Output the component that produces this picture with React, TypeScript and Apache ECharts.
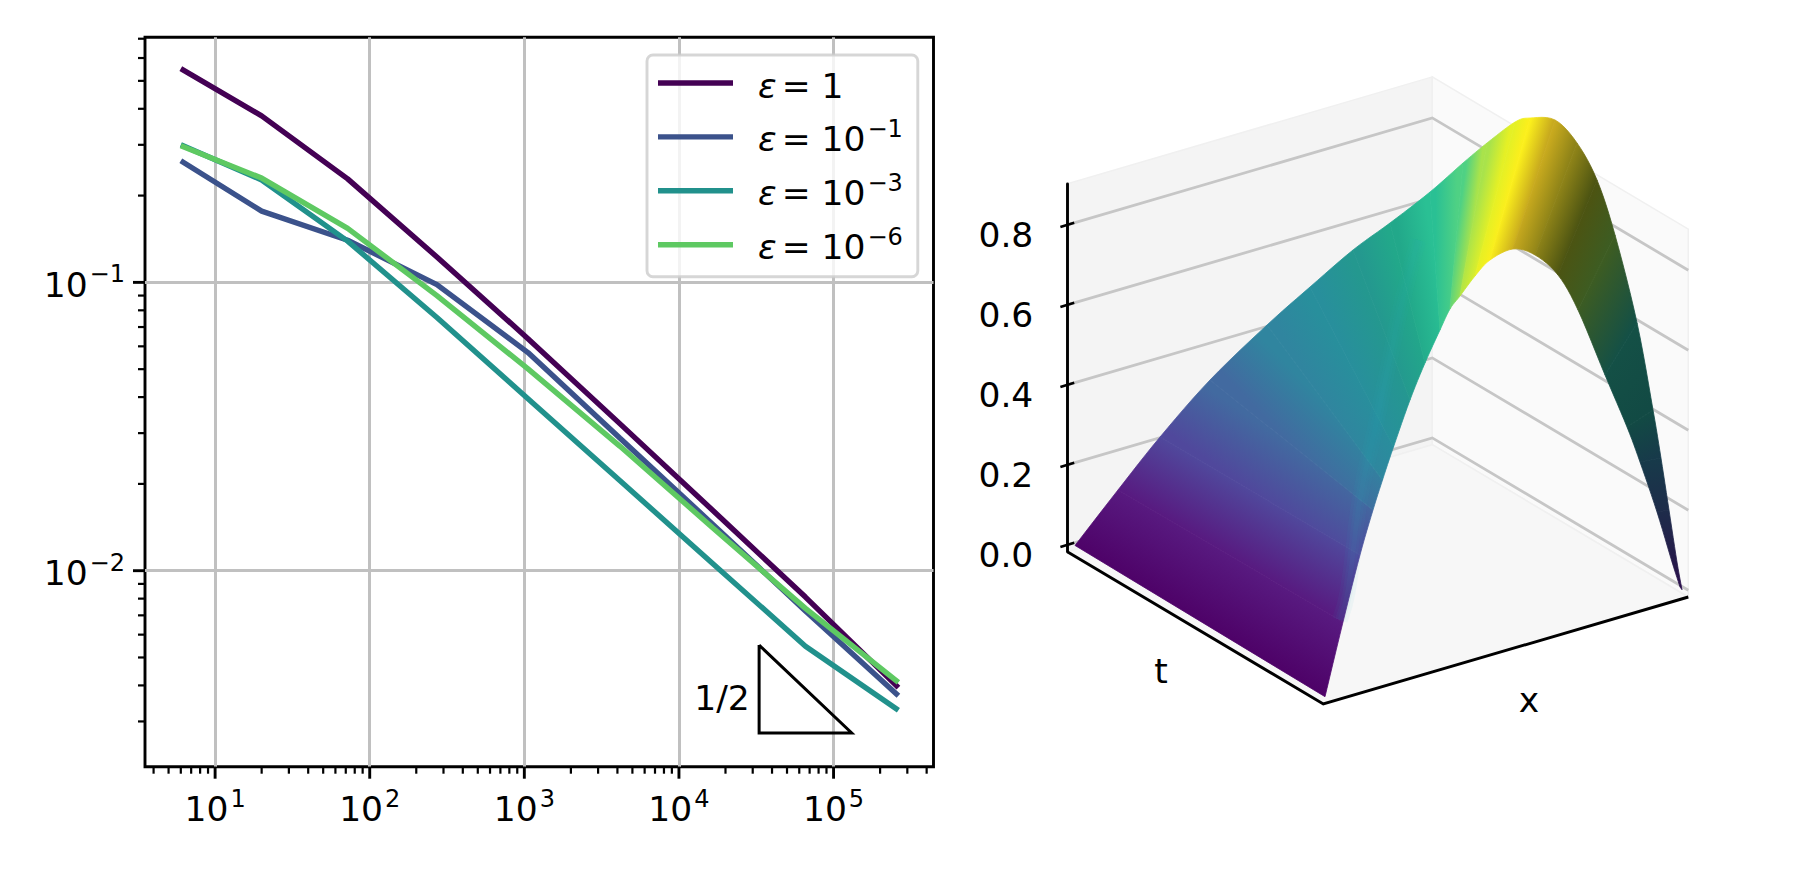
import { useEffect, useRef } from 'react';
import * as echarts from 'echarts';

const FONT = 'DejaVu Sans';
const FONT_SIZE = 34.5;
const SUP_SIZE = 24;

// left panel: error against degrees of freedom
const dofs = [6, 20, 72, 272, 1056, 4160, 16512, 65792, 262656];
const eps0 = [0.551, 0.378, 0.2285, 0.1225, 0.0638, 0.0323, 0.0162, 0.0081, 0.00393];
const eps1 = [0.264, 0.1766, 0.14, 0.0982, 0.0571, 0.0288, 0.0145, 0.00725, 0.00368];
const eps3 = [0.3, 0.2265, 0.139, 0.0755, 0.0395, 0.0205, 0.0106, 0.00547, 0.00328];
const eps6 = [0.298, 0.23, 0.154, 0.09, 0.0501, 0.027, 0.0141, 0.0074, 0.0041];
const seriesNames = ['1', '-1', '-3', '-6'];
const seriesColors = ['#440154', '#3b528b', '#21918c', '#5ec962'];

const triangleX = [33000, 33000, 131000, 33000];
const triangleY = [0.00552, 0.002735, 0.002735, 0.00552];

const xMinorTicks = [
  4, 5, 6, 7, 8, 9, 20, 30, 40, 50, 60, 70, 80, 90, 200, 300, 400, 500, 600, 700, 800, 900, 2000, 3000, 4000, 5000,
  6000, 7000, 8000, 9000, 20000, 30000, 40000, 50000, 60000, 70000, 80000, 90000, 200000, 300000, 400000
];
const xMajorTicks = [10, 100, 1000, 10000, 100000];
const yMinorTicks = [
  0.7, 0.6, 0.5, 0.4, 0.3, 0.2, 0.09, 0.08, 0.07, 0.06, 0.05, 0.04, 0.03, 0.02, 0.009, 0.008, 0.007, 0.006, 0.005,
  0.004, 0.003
];
const yMajorTicks = [0.1, 0.01];

// right panel: surface
const zTicks = [0, 0.2, 0.4, 0.6, 0.8];
const zMin = -0.017;
const zMax = 0.9025;
const upperS = [
  0.0124, 0.0816, 0.1493, 0.2298, 0.3216, 0.3908, 0.4601, 0.5196, 0.5841, 0.6372, 0.6759, 0.721, 0.7451, 0.7854,
  0.8208, 0.853, 0.882, 0.9175, 0.9432, 0.956, 0.9689, 0.9818, 0.9899
];
const upperZ = [
  0, 0.1465, 0.2866, 0.4383, 0.5862, 0.689, 0.7894, 0.8636, 0.9484, 1.0269, 1.0813, 1.1389, 1.1516, 1.1512, 1.0977,
  1.0089, 0.8746, 0.6587, 0.4441, 0.3255, 0.197, 0.0685, 0
];
const lowerX = [
  0.0047, 0.054, 0.1005, 0.1362, 0.1622, 0.1923, 0.2375, 0.2786, 0.3197, 0.3471, 0.3745, 0.4156, 0.4567, 0.5197, 0.58,
  0.643, 0.6978, 0.7718, 0.8321, 0.8677, 0.9143, 0.9554, 0.9773
];
const lowerZ = [
  0, 0.1736, 0.3286, 0.4316, 0.4996, 0.5741, 0.6795, 0.761, 0.8325, 0.8777, 0.9028, 0.9418, 0.9708, 0.9815, 0.9504,
  0.8835, 0.7814, 0.5991, 0.4529, 0.3559, 0.2184, 0.0825, 0.014
];
const surfaceColors = [
  '#4e0268', '#581a80', '#50489c', '#426aa0', '#30859f', '#288f9c', '#24988f', '#22a88a', '#2ac094', '#4fd184',
  '#a9e34b', '#e5f025', '#fbef1c', '#c8aa1e', '#8e8318', '#4c5412', '#3d5c22', '#145046', '#124a44', '#173a4a',
  '#1e2c4a', '#251a4a', '#2b0f4d'
];
// brighter crease running up the surface, on the projected plane
const creaseU = [0.439, 0.452, 0.471, 0.495, 0.52, 0.536, 0.565];
const creaseV = [0.21, 0.285, 0.51, 0.685, 0.8675, 0.985, 1.16];

const project = (x: number, t: number, z: number) => [
  (365 * x + 256 * t) / 621,
  z - zMin + (107 * x + 152.3 * (1 - t)) / 400
];

const powerLabel = (v: number) => {
  const p = Math.round(Math.log10(v));
  if (Math.abs(Math.log10(v) - p) > 1e-6) return '';
  return `{b|10}{s|${p < 0 ? '\u2212' + -p : p}}`;
};

const supStyle = {
  fontFamily: FONT,
  fontSize: SUP_SIZE,
  color: '#000',
  lineHeight: 24,
  verticalAlign: 'top',
  padding: [0, 0, 0, 2]
};

const powerRich = {
  b: { fontFamily: FONT, fontSize: FONT_SIZE, color: '#000', lineHeight: 40, verticalAlign: 'bottom' },
  s: supStyle
};

const logTicks = (axis: 'x' | 'y', values: number[], length: number, width: number, other: number) => ({
  type: 'custom',
  coordinateSystem: 'cartesian2d',
  xAxisIndex: 0,
  yAxisIndex: 0,
  silent: true,
  z: 5,
  data: values.map((v) => (axis === 'x' ? [v, other] : [other, v])),
  renderItem: (_: any, api: any) => {
    const p = api.coord([api.value(0), api.value(1)]);
    return {
      type: 'line',
      shape:
        axis === 'x'
          ? { x1: p[0], y1: p[1], x2: p[0], y2: p[1] + length }
          : { x1: p[0], y1: p[1], x2: p[0] - length, y2: p[1] },
      style: { stroke: '#000', lineWidth: width }
    };
  }
});

const planeSeries = (name: string, z: number, count: number, draw: (i: number, api: any) => any) => ({
  type: 'custom',
  name,
  coordinateSystem: 'cartesian2d',
  xAxisIndex: 2,
  yAxisIndex: 2,
  silent: true,
  z,
  data: Array.from({ length: count }, () => [0.5, 0.5]),
  renderItem: (params: any, api: any) => draw(params.dataIndex, api)
});

// points on the curve through pts between pts[i] and pts[i + 1]
const curveSpan = (pts: number[][], i: number, steps: number) => {
  const p0 = pts[Math.max(i - 1, 0)];
  const p1 = pts[i];
  const p2 = pts[i + 1];
  const p3 = pts[Math.min(i + 2, pts.length - 1)];
  const out: number[][] = [];
  for (let k = 0; k <= steps; k++) {
    const f = k / steps;
    out.push(
      [0, 1].map(
        (d) =>
          0.5 *
          (2 * p1[d] +
            (p2[d] - p0[d]) * f +
            (2 * p0[d] - 5 * p1[d] + 4 * p2[d] - p3[d]) * f * f +
            (3 * p1[d] - p0[d] - 3 * p2[d] + p3[d]) * f * f * f)
      )
    );
  }
  return out;
};

const App = () => {
  const chartRef = useRef<HTMLDivElement>(null);

  useEffect(() => {
    if (!chartRef.current) return;
    document.body.style.margin = '0';

    const chart = echarts.init(chartRef.current, null, { renderer: 'svg' });

    const xMin = 3.52;
    const xMax = 443000;
    const yMin = 0.00209;
    const yMax = 0.708;

    const panes = [
      { fill: '#f4f4f4', corners: [[0, 0, zMin], [1, 0, zMin], [1, 0, zMax], [0, 0, zMax]] },
      { fill: '#fafafa', corners: [[1, 0, zMin], [1, 1, zMin], [1, 1, zMax], [1, 0, zMax]] },
      { fill: '#f7f7f7', corners: [[0, 0, zMin], [0, 1, zMin], [1, 1, zMin], [1, 0, zMin]] }
    ];

    const option = {
      animation: false,
      backgroundColor: '#fff',
      textStyle: { fontFamily: FONT },
      grid: [
        { left: 145, top: 37.3, width: 788.5, height: 729.4, show: true, borderColor: '#000', borderWidth: 2.9 },
        { left: 1067.3, top: 184, width: 10, height: 367.7 },
        { left: 1067.3, top: 77.3, width: 621, height: 626.7 }
      ],
      xAxis: [
        {
          type: 'log',
          gridIndex: 0,
          min: xMin,
          max: xMax,
          axisLine: { show: false },
          axisTick: { show: false },
          axisLabel: { formatter: powerLabel, rich: powerRich, margin: 20, color: '#000', fontSize: FONT_SIZE },
          splitLine: { show: true, showMinLine: false, showMaxLine: false, lineStyle: { color: '#c0c0c0', width: 3 } }
        },
        { type: 'value', gridIndex: 1, min: 0, max: 1, show: false },
        { type: 'value', gridIndex: 2, min: 0, max: 1, show: false }
      ],
      yAxis: [
        {
          type: 'log',
          gridIndex: 0,
          min: yMin,
          max: yMax,
          axisLine: { show: false },
          axisTick: { show: false },
          axisLabel: { formatter: powerLabel, rich: powerRich, margin: 20, color: '#000', fontSize: FONT_SIZE },
          splitLine: { show: true, showMinLine: false, showMaxLine: false, lineStyle: { color: '#c0c0c0', width: 3 } }
        },
        {
          type: 'value',
          gridIndex: 1,
          min: zMin,
          max: zMax,
          z: 8,
          axisLine: { show: true, onZero: false, lineStyle: { color: '#000', width: 2.9 } },
          axisTick: { show: false },
          splitLine: { show: false },
          axisLabel: {
            customValues: zTicks,
            formatter: (v: number) => v.toFixed(1),
            margin: 34,
            color: '#000',
            fontFamily: FONT,
            fontSize: FONT_SIZE,
            verticalAlign: 'top',
            lineHeight: 20
          }
        },
        { type: 'value', gridIndex: 2, min: 0, max: 1.56675, show: false }
      ],
      legend: {
        left: 647,
        top: 55,
        orient: 'vertical',
        selectedMode: false,
        data: seriesNames,
        icon: 'rect',
        itemWidth: 75,
        itemHeight: 5.4,
        itemGap: 13.9,
        padding: [13, 15, 12, 11],
        backgroundColor: 'rgba(255,255,255,0.8)',
        borderColor: 'rgba(204,204,204,0.8)',
        borderWidth: 2.9,
        borderRadius: 6,
        formatter: (name: string) => {
          const exp = name === '1' ? '{n|= 1}' : `{n|= 10}{s|${name.replace('-', '\u2212')}}`;
          return `{e|\u03b5}${exp}`;
        },
        textStyle: {
          rich: {
            e: {
              fontFamily: FONT,
              fontSize: FONT_SIZE,
              fontStyle: 'italic',
              color: '#000',
              padding: [0, 5, 0, 20],
              lineHeight: 40,
              verticalAlign: 'bottom'
            },
            n: { fontFamily: FONT, fontSize: FONT_SIZE, color: '#000', lineHeight: 40, verticalAlign: 'bottom' },
            s: supStyle
          }
        }
      },
      graphic: [
        { type: 'text', x: 722, y: 698, z: 10, style: { text: '1/2', fontFamily: FONT, fontSize: FONT_SIZE, fill: '#000', textAlign: 'center', textVerticalAlign: 'middle' } },
        { type: 'text', x: 1161, y: 671, z: 10, style: { text: 't', fontFamily: FONT, fontSize: FONT_SIZE, fill: '#000', textAlign: 'center', textVerticalAlign: 'middle' } },
        { type: 'text', x: 1529, y: 700, z: 10, style: { text: 'x', fontFamily: FONT, fontSize: FONT_SIZE, fill: '#000', textAlign: 'center', textVerticalAlign: 'middle' } }
      ],
      series: [
        ...[eps0, eps1, eps3, eps6].map((values, k) => ({
          type: 'line',
          name: seriesNames[k],
          xAxisIndex: 0,
          yAxisIndex: 0,
          showSymbol: false,
          symbol: 'none',
          color: seriesColors[k],
          lineStyle: { color: seriesColors[k], width: 5.4 },
          data: values.map((v, i) => [dofs[i], v])
        })),
        {
          type: 'line',
          name: 'slope',
          xAxisIndex: 0,
          yAxisIndex: 0,
          symbol: 'none',
          z: 3,
          lineStyle: { color: '#000', width: 3, join: 'miter' },
          data: triangleX.map((v, i) => [v, triangleY[i]])
        },
        logTicks('x', xMajorTicks, 12, 2.9, yMin),
        logTicks('x', xMinorTicks, 7, 2.2, yMin),
        logTicks('y', yMajorTicks, 12, 2.9, xMin),
        logTicks('y', yMinorTicks, 7, 2.2, xMin),

        // walls and floor
        planeSeries('panes', 1, panes.length, (i, api) => ({
          type: 'polygon',
          shape: { points: panes[i].corners.map((c) => api.coord(project(c[0], c[1], c[2]))) },
          style: { fill: panes[i].fill, stroke: '#f0f0f0', lineWidth: 1.5 }
        })),
        // height lines on the two walls
        planeSeries('grid', 2, zTicks.length, (i, api) => ({
          type: 'polyline',
          shape: {
            points: [
              api.coord(project(0, 0, zTicks[i])),
              api.coord(project(1, 0, zTicks[i])),
              api.coord(project(1, 1, zTicks[i]))
            ]
          },
          style: { fill: 'none', stroke: '#c6c6c6', lineWidth: 2.8 }
        })),
        // floor edges
        planeSeries('edges', 3, 1, (_, api) => ({
          type: 'polyline',
          shape: {
            points: [
              api.coord(project(0, 0, zMin)),
              api.coord(project(0, 1, zMin)),
              api.coord(project(1, 1, zMin))
            ]
          },
          style: { fill: 'none', stroke: '#000', lineWidth: 2.9, lineJoin: 'miter' }
        })),
        planeSeries('zticks', 9, zTicks.length, (i, api) => {
          const a = api.coord(project(-0.019, 0, zTicks[i]));
          const b = api.coord(project(0.019, 0, zTicks[i]));
          return {
            type: 'line',
            shape: { x1: a[0], y1: a[1], x2: b[0], y2: b[1] },
            style: { stroke: '#000', lineWidth: 2.6 }
          };
        }),
        // the surface as strips between the boundary curves
        planeSeries('surface', 6, upperS.length - 1, (i, api) => {
          const upper = upperS.map((s, k) => api.coord(project(s, s, upperZ[k])));
          const lower = lowerX.map((x, k) => api.coord(project(x, 1, lowerZ[k])));
          const u0 = upper[i];
          const u1 = upper[i + 1];
          const l0 = lower[i];
          const l1 = lower[i + 1];
          const m0 = [(u0[0] + l0[0]) / 2, (u0[1] + l0[1]) / 2];
          const m1 = [(u1[0] + l1[0]) / 2, (u1[1] + l1[1]) / 2];
          const dx = u0[0] + u1[0] - l0[0] - l1[0];
          const dy = u0[1] + u1[1] - l0[1] - l1[1];
          const len = Math.hypot(dx, dy) || 1;
          const nx = -dy / len;
          const ny = dx / len;
          const d = (m1[0] - m0[0]) * nx + (m1[1] - m0[1]) * ny;
          const gradient = new echarts.graphic.LinearGradient(
            m0[0],
            m0[1],
            m0[0] + nx * d,
            m0[1] + ny * d,
            [
              { offset: 0, color: surfaceColors[i] },
              { offset: 1, color: surfaceColors[i + 1] }
            ],
            true
          );
          return {
            type: 'polygon',
            shape: { points: [...curveSpan(upper, i, 6), ...curveSpan(lower, i, 6).reverse()] },
            style: { fill: gradient, stroke: gradient, lineWidth: 0.8 }
          };
        }),
        ...[16, 10, 5].map((width) => ({
          type: 'line',
          name: 'crease' + width,
          xAxisIndex: 2,
          yAxisIndex: 2,
          symbol: 'none',
          smooth: true,
          z: 7,
          lineStyle: { color: '#2fa8c8', width, opacity: 0.05 },
          data: creaseU.map((u, i) => [u, creaseV[i]])
        }))
      ]
    };

    chart.setOption(option as any);

    return () => {
      chart.dispose();
    };
  }, []);

  return <div ref={chartRef} style={{ width: 1800, height: 875 }} />;
};

export default App;
